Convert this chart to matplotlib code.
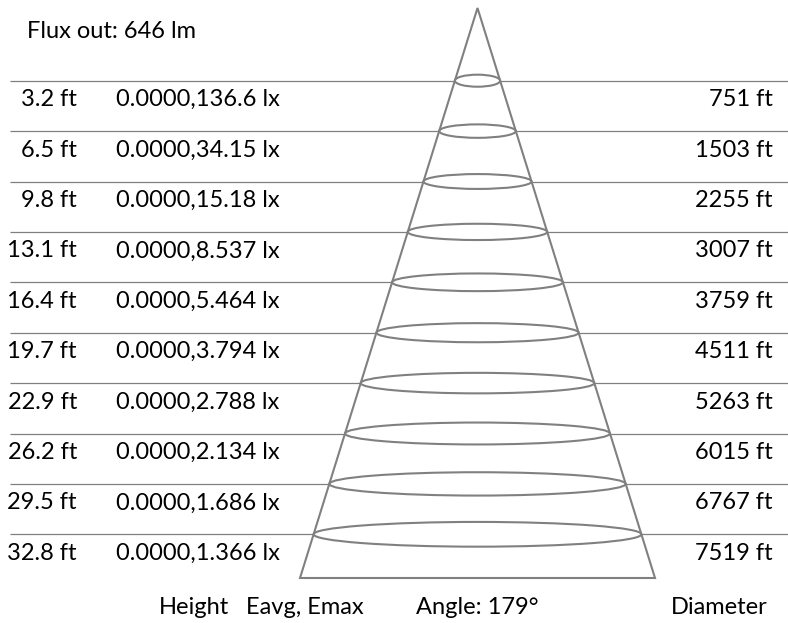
import matplotlib
matplotlib.use("Agg")
import matplotlib.pyplot as plt
from matplotlib.patches import Ellipse, Polygon

plt.rcParams['font.family'] = ['Lato', 'DejaVu Sans']

flux_lm = 646
beam_angle = 179
heights_ft = [3.2, 6.5, 9.8, 13.1, 16.4, 19.7, 22.9, 26.2, 29.5, 32.8]
eavg_lx = ["0.0000"] * 10
emax_lx = ["136.6", "34.15", "15.18", "8.537", "5.464", "3.794", "2.788", "2.134", "1.686", "1.366"]
diameters_ft = [751, 1503, 2255, 3007, 3759, 4511, 5263, 6015, 6767, 7519]
footer_labels = ["Height", "Eavg, Emax", f"Angle: {beam_angle}°", "Diameter"]

W, H = 788, 623
fig = plt.figure(figsize=(W / 100, H / 100), dpi=100)
ax = fig.add_axes([0, 0, 1, 1])
ax.set_xlim(0, W)
ax.set_ylim(H, 0)
ax.axis('off')

gray = '#808080'
fs = 17

# layout
apex_x, apex_y = 477.5, 8
base_y = 578
base_half = 177.5
row_top = 80.7
row_step = 50.4

def half_width(y):
    return (y - apex_y) / (base_y - apex_y) * base_half

n = len(heights_ft)
# horizontal lines
for i in range(n):
    y = row_top + i * row_step
    ax.plot([10, W], [y, y], color=gray, lw=0.9, zorder=1, solid_capstyle='butt')

# cone fill (hides lines inside) and outline
cone = Polygon([[apex_x, apex_y], [apex_x + base_half, base_y], [apex_x - base_half, base_y]],
               closed=True, facecolor='white', edgecolor=gray, lw=1.5, zorder=2, joinstyle='miter')
ax.add_patch(cone)

# ellipses
for i in range(n):
    y = row_top + i * row_step
    hw = half_width(y)
    eh = 10 + 0.09 * hw
    ax.add_patch(Ellipse((apex_x, y), 2 * hw, eh, facecolor='none', edgecolor=gray, lw=1.5, zorder=3))

# texts
ax.text(27, 32, f"Flux out: {flux_lm} lm", fontsize=fs, va='center', ha='left', color='black')
for i in range(n):
    y = row_top + i * row_step + 19
    ax.text(77, y, f"{heights_ft[i]} ft", fontsize=fs, va='center', ha='right', color='black')
    ax.text(116, y, f"{eavg_lx[i]},{emax_lx[i]} lx", fontsize=fs, va='center', ha='left', color='black')
    ax.text(773, y, f"{diameters_ft[i]} ft", fontsize=fs, va='center', ha='right', color='black')

fy = 608
ax.text(229, fy, footer_labels[0], fontsize=fs, va='center', ha='right', color='black')
ax.text(246, fy, footer_labels[1], fontsize=fs, va='center', ha='left', color='black')
ax.text(416, fy, footer_labels[2], fontsize=fs, va='center', ha='left', color='black')
ax.text(768, fy, footer_labels[3], fontsize=fs, va='center', ha='right', color='black')

fig.savefig("out.png", dpi=100)
